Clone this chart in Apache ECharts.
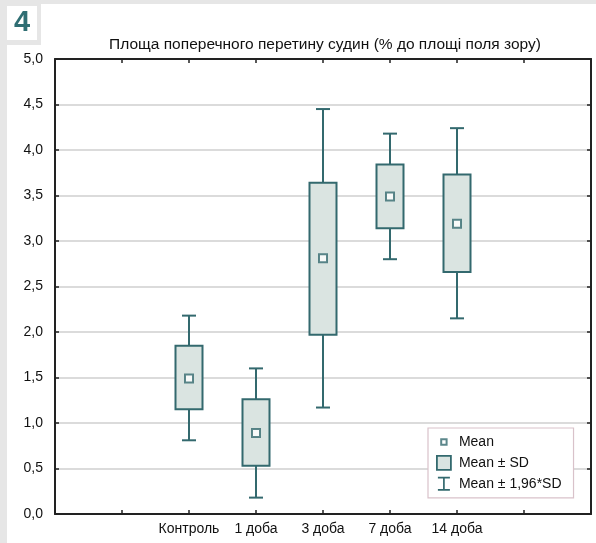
<!DOCTYPE html>
<html>
<head>
<meta charset="utf-8">
<script src="https://cdn.jsdelivr.net/npm/echarts@6/dist/echarts.min.js"></script>
<style>html,body{margin:0;padding:0;background:#e6e6e6}#c{width:596px;height:543px}</style>
</head>
<body>
<div id="c"></div>
<script>
const categories = ['Контроль', '1 доба', '3 доба', '7 доба', '14 доба'];
const means   = [1.49, 0.89, 2.81, 3.49, 3.19];
const sdLow   = [1.15, 0.53, 1.97, 3.14, 2.66];
const sdHigh  = [1.85, 1.26, 3.64, 3.84, 3.73];
const ciLow   = [0.81, 0.18, 1.17, 2.80, 2.15];
const ciHigh  = [2.18, 1.60, 4.45, 4.18, 4.24];
const yTicks  = ['0,0','0,5','1,0','1,5','2,0','2,5','3,0','3,5','4,0','4,5','5,0'];
const titleText = 'Площа поперечного перетину судин (% до площі поля зору)';

const TEAL = '#33696e';
const FILL = '#dae4e1';
const FIRST = 2; // first category sits on the 3rd tick of the x scale

const meanData = means.map((m, i) => [i + FIRST, m]);
const boxData = sdLow.map((lo, i) => [i + FIRST, lo, sdHigh[i]]);
const whiskerData = ciLow.map((lo, i) => [i + FIRST, lo, ciHigh[i]]);

const font = 'Liberation Sans, Arial, sans-serif';
const chart = echarts.init(document.getElementById('c'));

const baseX = {
  type: 'value', min: 0, max: 8, interval: 1,
  axisLine: {show: true, onZero: false, lineStyle: {color: '#222', width: 2}},
  axisTick: {show: true, inside: true, length: 4, lineStyle: {color: '#222', width: 1.5}},
  splitLine: {show: false}
};
const baseY = {
  type: 'value', min: 0, max: 5, interval: 0.5,
  axisLine: {show: true, onZero: false, lineStyle: {color: '#222', width: 2}},
  axisTick: {show: true, inside: true, length: 4, lineStyle: {color: '#222', width: 1.5}}
};

chart.setOption({
  backgroundColor: '#e6e6e6',
  animation: false,
  graphic: [
    {type: 'rect', z: -10, shape: {x: 41, y: 4, width: 555, height: 539}, style: {fill: '#fff'}},
    {type: 'rect', z: -10, shape: {x: 7, y: 45, width: 589, height: 498}, style: {fill: '#fff'}},
    {type: 'rect', z: -10, shape: {x: 7, y: 6, width: 30, height: 34}, style: {fill: '#fff'}},
    {type: 'text', z: 10, x: 22, y: 23, style: {text: '4', fill: '#2f6e73', font: 'bold 29px Liberation Sans, Arial, sans-serif', align: 'center', verticalAlign: 'middle'}}
  ],
  title: {
    text: titleText, left: 320, top: 32, textAlign: 'center',
    textStyle: {fontFamily: font, fontSize: 15.5, fontWeight: 'normal', color: '#111'}
  },
  grid: {left: 55, right: 5, top: 59, bottom: 29, containLabel: false},
  xAxis: [
    Object.assign({}, baseX, {
      position: 'bottom',
      axisLabel: {
        show: true, margin: 8, fontFamily: font, fontSize: 14, color: '#111',
        formatter: v => categories[v - FIRST] !== undefined ? categories[v - FIRST] : ''
      }
    }),
    Object.assign({}, baseX, {position: 'top', axisLabel: {show: false}})
  ],
  yAxis: [
    Object.assign({}, baseY, {
      position: 'left',
      axisLabel: {show: true, margin: 12, fontFamily: font, fontSize: 14, color: '#111',
        formatter: v => yTicks[Math.round(v * 2)]},
      splitLine: {show: true, lineStyle: {color: '#cfcfcf', width: 1.5}}
    }),
    Object.assign({}, baseY, {position: 'right', axisLabel: {show: false}, splitLine: {show: false}})
  ],
  legend: {
    left: 428, top: 428, orient: 'vertical',
    padding: [7, 12, 7, 8], itemGap: 6, itemWidth: 14, itemHeight: 14,
    borderColor: '#d9c2ca', borderWidth: 1.2, backgroundColor: '#fff',
    textStyle: {fontFamily: font, fontSize: 14, color: '#111', padding: [0, 0, 0, 3]},
    data: [
      {name: 'Mean',
       icon: 'path://M0,0h0.01v0.01h-0.01z M13.99,13.99h0.01v0.01h-0.01z M3.3,3.3h7.4v7.4h-7.4z M5.3,5.3v3.4h3.4v-3.4z',
       itemStyle: {color: TEAL, borderWidth: 0}},
      {name: 'Mean ± SD', icon: 'rect',
       itemStyle: {color: FILL, borderColor: TEAL, borderWidth: 1.8}},
      {name: 'Mean ± 1,96*SD',
       icon: 'path://M1,0h12v1.7h-12z M6.15,0h1.7v14h-1.7z M1,12.3h12v1.7h-12z',
       itemStyle: {color: TEAL, borderWidth: 0}}
    ]
  },
  series: [
    {
      name: 'Mean ± 1,96*SD', type: 'custom', z: 2,
      data: whiskerData,
      encode: {x: 0, y: [1, 2]},
      renderItem: (params, api) => {
        const x = api.value(0);
        const pLo = api.coord([x, api.value(1)]);
        const pHi = api.coord([x, api.value(2)]);
        const half = 7;
        const st = {stroke: TEAL, lineWidth: 2};
        return {type: 'group', children: [
          {type: 'line', shape: {x1: pLo[0], y1: pLo[1], x2: pHi[0], y2: pHi[1]}, style: st},
          {type: 'line', shape: {x1: pHi[0] - half, y1: pHi[1], x2: pHi[0] + half, y2: pHi[1]}, style: st},
          {type: 'line', shape: {x1: pLo[0] - half, y1: pLo[1], x2: pLo[0] + half, y2: pLo[1]}, style: st}
        ]};
      }
    },
    {
      name: 'Mean ± SD', type: 'custom', z: 3,
      data: boxData,
      encode: {x: 0, y: [1, 2]},
      renderItem: (params, api) => {
        const x = api.value(0);
        const pLo = api.coord([x, api.value(1)]);
        const pHi = api.coord([x, api.value(2)]);
        const w = 27;
        return {type: 'rect',
          shape: {x: pLo[0] - w / 2, y: pHi[1], width: w, height: pLo[1] - pHi[1]},
          style: {fill: FILL, stroke: TEAL, lineWidth: 2}};
      }
    },
    {
      name: 'Mean', type: 'scatter', z: 4,
      data: meanData,
      symbol: 'rect', symbolSize: 8,
      itemStyle: {color: '#fff', borderColor: TEAL, borderWidth: 2}
    }
  ]
});
</script>
</body>
</html>
